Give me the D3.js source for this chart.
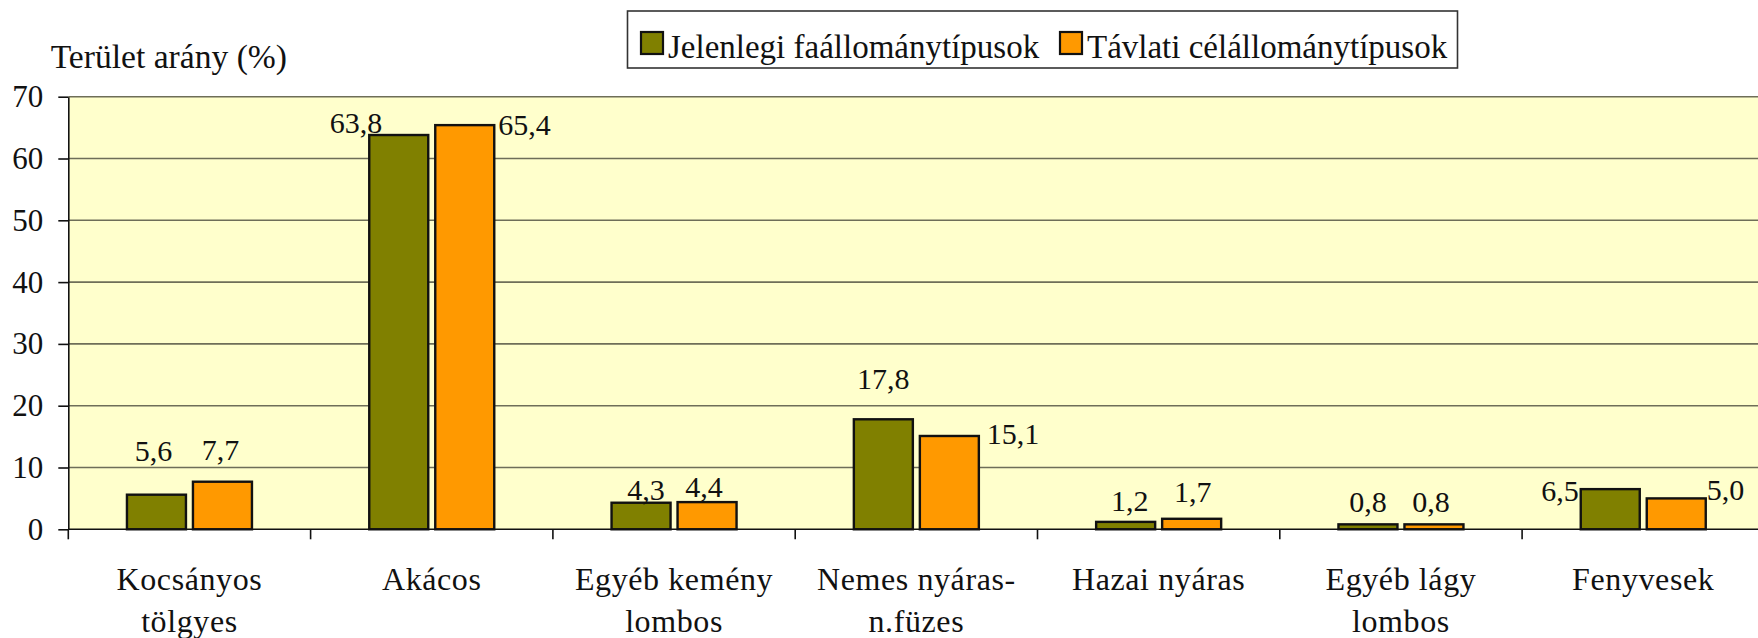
<!DOCTYPE html>
<html>
<head>
<meta charset="utf-8">
<script src="https://cdn.jsdelivr.net/npm/d3@7"></script>
<style>
  html, body { margin: 0; padding: 0; background: #fff; }
  svg { display: block; }
</style>
</head>
<body>
<div id="chart"></div>
<script>
// data
const categories = [
  ["Kocsányos", "tölgyes"],
  ["Akácos"],
  ["Egyéb kemény", "lombos"],
  ["Nemes nyáras-", "n.füzes"],
  ["Hazai nyáras"],
  ["Egyéb lágy", "lombos"],
  ["Fenyvesek"]
];
const seriesNames = ["Jelenlegi faállománytípusok", "Távlati célállománytípusok"];
const current = [5.6, 63.8, 4.3, 17.8, 1.2, 0.8, 6.5];
const target = [7.7, 65.4, 4.4, 15.1, 1.7, 0.8, 5.0];
const yTicks = [0, 10, 20, 30, 40, 50, 60, 70];
const yTitle = "Terület arány (%)";

// label placement per bar: [anchor, dx, dy from bar top to text centre]
const labelPlace = [
  [["mid", -3, -44], ["mid", -2, -32]],
  [["left", 13, -12], ["right", 4, 0]],
  [["mid", 5, -13], ["mid", -3, -15]],
  [["mid", 0, -40], ["right", 8, -2]],
  [["mid", 4, -21], ["mid", 1, -27]],
  [["mid", 0, -23], ["mid", -3, -23]],
  [["left", -2, 2], ["right", 1, -9]]
];

const W = 1758, H = 638;
const FONT = "'Liberation Serif'";
const colors = ["#808000", "#FF9900"];
const plotLeft = 68.3, band = 242.3, plotTop = 96.7, plotBottom = 529.3;

// make sure the serif face is loaded before drawing
const probe = document.createElement("canvas").getContext("2d");
probe.font = "30px " + FONT;
probe.measureText("Terület arány 0123");
document.fonts.check("30px " + FONT);

const svg = d3.select("#chart").append("svg")
  .attr("width", W).attr("height", H)
  .attr("font-family", FONT);

const x = d3.scaleBand()
  .domain(d3.range(categories.length))
  .range([plotLeft, plotLeft + band * categories.length]);

const x1 = d3.scaleBand()
  .domain([0, 1])
  .range([band / 2 - 62.5, band / 2 + 62.5])
  .paddingInner(7 / 66);

const y = d3.scaleLinear().domain([0, 70]).range([plotBottom, plotTop]);

const fmt = d3.formatLocale({ decimal: ",", thousands: " ", grouping: [3], currency: ["", ""] }).format(".1f");

// plot background
svg.append("rect")
  .attr("x", plotLeft).attr("y", plotTop)
  .attr("width", W - plotLeft).attr("height", plotBottom - plotTop)
  .attr("fill", "#FFFFCC");

// gridlines
svg.append("g")
  .selectAll("line")
  .data(yTicks.filter(d => d > 0))
  .join("line")
  .attr("x1", plotLeft).attr("x2", W)
  .attr("y1", d => y(d)).attr("y2", d => y(d))
  .attr("stroke", "#6e6e58")
  .attr("stroke-width", 1.6);

// bars
const rows = categories.map((c, i) => [current[i], target[i]]);
const group = svg.append("g")
  .selectAll("g")
  .data(rows)
  .join("g")
  .attr("transform", (d, i) => `translate(${x(i)},0)`);

group.selectAll("rect")
  .data(d => d)
  .join("rect")
  .attr("x", (d, j) => x1(j))
  .attr("y", d => y(d))
  .attr("width", x1.bandwidth())
  .attr("height", d => y(0) - y(d))
  .attr("fill", (d, j) => colors[j])
  .attr("stroke", "#111")
  .attr("stroke-width", 2.4);

// value labels
group.selectAll("text")
  .data((d, i) => d.map((v, j) => ({ v, j, p: labelPlace[i][j] })))
  .join("text")
  .attr("x", d => {
    const [mode, dx] = d.p;
    if (mode === "left") return x1(d.j) + dx;
    if (mode === "right") return x1(d.j) + x1.bandwidth() + dx;
    return x1(d.j) + x1.bandwidth() / 2 + dx;
  })
  .attr("y", d => y(d.v) + d.p[2] + 10.2)
  .attr("text-anchor", d => d.p[0] === "left" ? "end" : d.p[0] === "right" ? "start" : "middle")
  .attr("font-family", FONT)
  .attr("font-size", 30)
  .attr("fill", "#111")
  .text(d => fmt(d.v));

// y axis
const yAxis = svg.append("g")
  .attr("transform", `translate(${plotLeft},0)`)
  .call(d3.axisLeft(y).tickValues(yTicks).tickSize(10).tickSizeOuter(0).tickPadding(15));
yAxis.attr("font-family", FONT).attr("font-size", 31);
yAxis.select(".domain").attr("stroke", "#111").attr("stroke-width", 1.6);
yAxis.selectAll(".tick line").attr("stroke", "#111").attr("stroke-width", 1.6);
yAxis.selectAll(".tick text")
  .attr("font-family", FONT)
  .attr("font-size", 31)
  .attr("fill", "#111");

// x axis
svg.append("line")
  .attr("x1", plotLeft).attr("x2", W)
  .attr("y1", plotBottom).attr("y2", plotBottom)
  .attr("stroke", "#111").attr("stroke-width", 1.6);

svg.append("g")
  .selectAll("line")
  .data(x.domain())
  .join("line")
  .attr("x1", d => x(d)).attr("x2", d => x(d))
  .attr("y1", plotBottom).attr("y2", plotBottom + 10)
  .attr("stroke", "#111").attr("stroke-width", 1.6);

svg.append("g")
  .selectAll("text")
  .data(categories)
  .join("text")
  .attr("x", (d, i) => x(i) + band / 2)
  .attr("y", 590)
  .attr("text-anchor", "middle")
  .attr("font-family", FONT)
  .attr("font-size", 32)
  .attr("letter-spacing", 0.6)
  .attr("fill", "#111")
  .selectAll("tspan")
  .data(d => d)
  .join("tspan")
  .attr("x", function () { return this.parentNode.getAttribute("x"); })
  .attr("dy", (d, k) => k === 0 ? 0 : 41.7)
  .text(d => d);

// axis title
svg.append("text")
  .attr("x", 50.7).attr("y", 68)
  .attr("font-family", FONT)
  .attr("font-size", 33.6)
  .attr("fill", "#111")
  .text(yTitle);

// legend
const legend = svg.append("g");
legend.append("rect")
  .attr("x", 627.5).attr("y", 11)
  .attr("width", 830).attr("height", 57)
  .attr("fill", "#fff")
  .attr("stroke", "#333").attr("stroke-width", 1.6);

const legendX = [641, 1060];
const item = legend.selectAll("g")
  .data(seriesNames)
  .join("g")
  .attr("transform", (d, i) => `translate(${legendX[i]},32)`);
item.append("rect")
  .attr("width", 22).attr("height", 22)
  .attr("fill", (d, i) => colors[i])
  .attr("stroke", "#111").attr("stroke-width", 2.2);
item.append("text")
  .attr("x", 27).attr("y", 26)
  .attr("font-family", FONT)
  .attr("font-size", 33)
  .attr("fill", "#111")
  .text(d => d);
</script>
</body>
</html>
